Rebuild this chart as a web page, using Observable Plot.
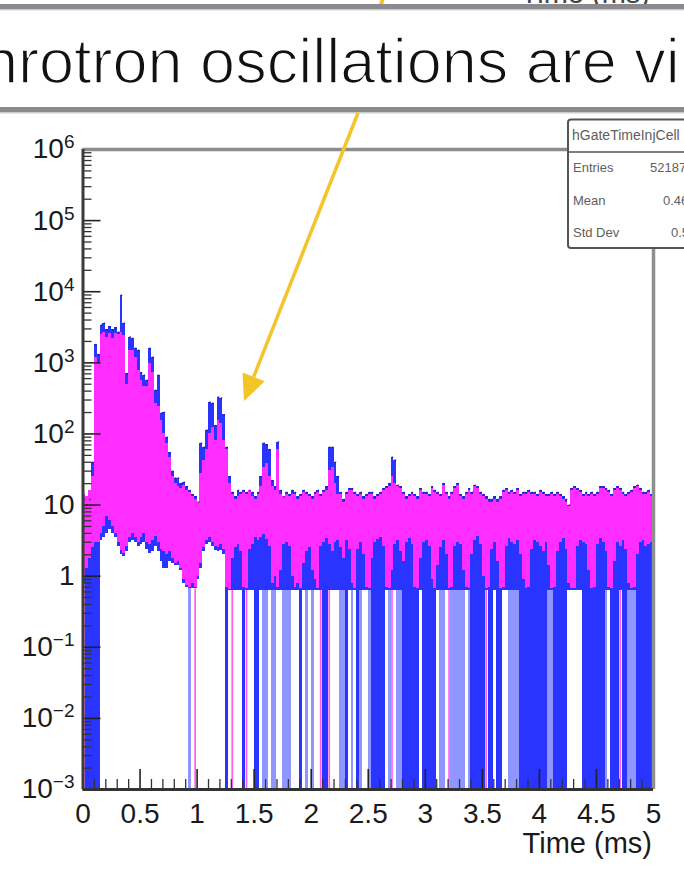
<!DOCTYPE html>
<html><head><meta charset="utf-8">
<script src="https://cdn.jsdelivr.net/npm/d3@7"></script>
<script src="https://cdn.jsdelivr.net/npm/@observablehq/plot@0.6"></script>
<style>
html,body{margin:0;padding:0;background:#fff;}
svg{display:block;}
</style></head><body>
<script>
// Histogram bin width (ms); 200 bins over 0-5 ms
const dt = 0.025;

// Upper edge of the blue histogram band (counts)
const blueHi = [
  12, 10, 12, 40, 1800, 1300, 3400, 3600, 2900, 3200,
  2900, 3100, 2700, 8900, 3600, 700, 2300, 2200, 1600, 1500,
  720, 670, 570, 1600, 1200, 410, 670, 195, 200, 90,
  54, 30, 24, 24, 20, 21, 18, 16, 14, 13,
  11, 74, 65, 113, 280, 270, 130, 330, 320, 185,
  65, 25, 15, 13, 16, 15, 16, 15, 16, 15,
  13, 15, 25, 74, 70, 60, 22, 18, 77, 16,
  13, 15, 14, 16, 15, 13, 14, 16, 15, 14,
  13, 15, 16, 14, 16, 18, 65, 65, 40, 25,
  15, 12, 15, 17, 17, 15, 14, 15, 13, 14,
  15, 15, 13, 14, 15, 17, 18, 20, 47, 43,
  19, 18, 15, 13, 14, 15, 14, 13, 17, 15,
  15, 14, 18, 16, 15, 14, 20, 15, 13, 15,
  18, 20, 14, 13, 15, 17, 15, 19, 18, 15,
  14, 13, 12, 12, 13, 12, 13, 16, 17, 15,
  16, 15, 17, 14, 15, 15, 16, 15, 15, 14,
  16, 15, 14, 14, 15, 14, 15, 14, 13, 12,
  10, 17, 18, 17, 16, 14, 15, 14, 15, 14,
  15, 18, 18, 17, 16, 14, 17, 18, 17, 15,
  14, 15, 16, 18, 19, 17, 15, 15, 16, 14
];
// Upper edge of the magenta histogram band
const magHi = [
  14, 13, 16, 25, 1200, 1000, 2500, 2700, 2300, 2600,
  2200, 2600, 2500, 2700, 2400, 500, 1500, 1500, 1200, 780,
  570, 460, 460, 980, 720, 270, 240, 155, 100, 74,
  47, 25, 20, 18, 17, 19, 16, 15, 13, 12,
  11, 28, 43, 60, 100, 125, 80, 155, 140, 82,
  60, 20, 14, 12, 13, 14, 15, 14, 16, 13,
  12, 14, 18, 34, 39, 25, 18, 16, 60, 14,
  13, 14, 13, 14, 14, 12, 13, 15, 14, 13,
  12, 14, 15, 13, 15, 16, 31, 34, 20, 14,
  14, 11, 14, 16, 16, 14, 13, 14, 12, 13,
  14, 14, 12, 13, 14, 16, 17, 18, 25, 20,
  18, 17, 14, 12, 13, 14, 13, 12, 16, 14,
  14, 13, 17, 15, 14, 13, 19, 14, 12, 14,
  17, 19, 13, 12, 14, 16, 14, 18, 17, 14,
  13, 12, 11, 11, 12, 11, 12, 15, 16, 14,
  15, 14, 16, 13, 14, 14, 15, 14, 14, 13,
  15, 14, 13, 13, 14, 13, 14, 13, 12, 11,
  9.5, 16, 17, 16, 15, 13, 14, 13, 14, 13,
  14, 17, 17, 16, 15, 13, 16, 17, 16, 14,
  13, 14, 15, 17, 18, 16, 14, 14, 15, 13
];
// Lower edge of the magenta band
const magLo = [
  1.0, 1.3, 1.8, 2.5, 3, 3, 4, 5, 7, 6,
  5, 4, 3, 2.3, 2.1, 2.6, 3.5, 4, 3.5, 3,
  3.5, 4, 3, 2.8, 3.2, 3.6, 3, 2.4, 2.2, 2,
  2.2, 1.8, 1.5, 1.6, 1.3, 0.9, 0.75, 0.7, 0.8, 0.7,
  1.0, 1.5, 2.5, 3.2, 3.5, 3.0, 2.6, 2.5, 2.8, 2.4,
  0.7, 0.65, 1.8, 2.5, 2.8, 2.2, 0.7, 0.66, 2.4, 2.8,
  3.5, 3.2, 3.5, 3.8, 3.3, 2.6, 0.8, 1.0, 0.7, 1.2,
  2.8, 3.0, 2.6, 1.0, 0.7, 0.8, 0.66, 1.5, 2.2, 2.5,
  1.2, 0.9, 0.66, 2.6, 3.0, 3.4, 2.8, 2.2, 3.0, 3.2,
  2.5, 1.8, 3.2, 2.4, 0.8, 0.66, 2.4, 3.0, 2.0, 0.7,
  0.66, 1.8, 3.0, 3.3, 3.5, 2.6, 0.7, 0.66, 1.2, 2.8,
  3.2, 2.2, 1.6, 3.0, 3.4, 2.8, 0.7, 0.66, 1.8, 3.0,
  3.2, 2.6, 0.9, 0.66, 1.4, 2.5, 3.2, 2.0, 0.66, 0.7,
  2.6, 3.0, 2.8, 1.2, 0.7, 0.66, 2.0, 3.2, 3.6, 2.8,
  1.0, 0.66, 0.7, 2.4, 3.0, 1.6, 0.66, 0.7, 2.6, 3.4,
  3.0, 2.8, 3.2, 2.0, 0.9, 0.66, 0.7, 2.4, 3.2, 3.0,
  2.6, 2.2, 3.0, 1.4, 0.66, 0.7, 2.2, 3.0, 3.4, 2.4,
  0.8, 0.66, 0.66, 2.6, 3.2, 3.0, 2.8, 1.2, 0.66, 0.7,
  2.8, 3.4, 3.0, 2.2, 0.7, 0.66, 1.6, 3.0, 2.6, 3.2,
  2.4, 0.8, 0.66, 0.7, 2.0, 3.0, 3.2, 2.6, 2.8, 3.0
];
// Lower edge of the blue band for the first 50 bins; afterwards the band reaches the floor value
const blueLoEarly = [
  0.8, 0.8, 0.9, 1.0, 1.2, 1.5, 3.2, 3.5, 4, 4.5,
  4, 3.5, 2.6, 2.0, 1.9, 2.2, 3, 3.2, 3, 2.6,
  2.8, 3.0, 2.4, 2.1, 2.2, 2.6, 2.2, 1.6, 1.3, 1.3,
  1.6, 1.5, 1.4, 1.4, 1.2, 0.8, 0.7, 0.66, 0.66, 0.66,
  0.9, 1.3, 2.2, 2.8, 3.0, 2.6, 2.3, 2.2, 2.3, 2.0
];
const blueFloor = 0.63;
// Error bars that reach down to the bottom of the log axis: 0 none, 1 light blue, 2 blue, 3 magenta
const stripeClass = [
  3,2,2,2,2,2,0,0,0,0,
  0,0,0,0,0,0,0,0,0,0,
  0,0,0,0,0,0,0,0,0,0,
  0,0,0,0,0,0,0,1,0,3,
  0,0,0,0,0,0,0,0,0,0,
  2,0,3,0,0,0,2,3,0,0,
  2,2,0,1,1,0,1,1,0,0,
  1,1,1,0,0,0,2,0,1,0,
  1,0,0,3,2,2,3,0,0,0,
  1,1,2,0,1,0,2,1,0,0,
  1,2,2,2,2,2,0,1,3,0,
  1,1,2,2,2,2,2,2,0,2,
  2,2,2,2,0,1,1,0,3,1,
  1,1,1,1,0,1,2,2,2,2,
  2,3,2,2,0,2,2,0,0,1,
  1,1,1,2,2,2,2,2,2,2,
  2,2,2,1,1,2,2,2,2,2,
  0,0,0,0,0,2,2,2,2,2,
  2,2,2,1,0,2,2,2,3,2,
  2,1,1,1,2,2,2,2,2,2
];

// Axis tick values and texts
const yMajor = [1e-3, 1e-2, 1e-1, 1, 10, 100, 1e3, 1e4, 1e5, 1e6];
const xMajor = [0, 0.5, 1, 1.5, 2, 2.5, 3, 3.5, 4, 4.5, 5];
const xLabel = "Time (ms)";
const statsTitle = "hGateTimeInjCell";
const statsRows = [["Entries", "52187"], ["Mean", "0.46"], ["Std Dev", "0.5"]];
const slideText = "hrotron oscillations are vi";

const yMinor = [];
for (let e = -3; e < 6; e++) for (let m = 2; m <= 9; m++) yMinor.push(m * Math.pow(10, e));
const xMinor = [];
for (let k = 1; k < 50; k++) if (k % 5) xMinor.push(k / 10);

const bins = blueHi.map((_, i) => ({
  x1: i * dt, x2: (i + 1) * dt, xc: (i + 0.5) * dt,
  bHi: blueHi[i], mHi: magHi[i], mLo: magLo[i],
  bLo: i < blueLoEarly.length ? blueLoEarly[i] : blueFloor,
  s: stripeClass[i]
}));

const W = 684, H = 871, mL = 82.5, mR = 31, mT = 149, mB = 82;
const frameW = W - mL - mR, frameH = H - mT - mB;
const BLUE = "#2a34ff", BLUE_LIGHT = "#9096ff", MAG = "#ff2dff", MAG_STRIPE = "#ff5cf2";

const fmtY = d => {
  const e = Math.round(Math.log10(d));
  if (e === 0) return "1";
  if (e === 1) return "10";
  return "10^" + (e < 0 ? "\u2212" + (-e) : e);
};

const chart = Plot.plot({
  width: W, height: H,
  marginLeft: mL, marginRight: mR, marginTop: mT, marginBottom: mB,
  style: {fontFamily: "'Liberation Sans', Arial, Helvetica, sans-serif", fontSize: "28px", color: "#1a1a1a", background: "#fff"},
  x: {domain: [0, 5], ticks: xMajor, tickFormat: d => String(d), tickSize: 0, tickPadding: 14, label: null},
  y: {type: "log", domain: [1e-3, 1e6], ticks: yMajor, tickFormat: fmtY, tickSize: 0, tickPadding: 8.5, label: null},
  marks: [
    Plot.rect(bins.filter(d => d.s === 1), {x1: "x1", x2: "x2", y1: () => 1e-3, y2: "bLo", fill: BLUE_LIGHT, shapeRendering: "crispEdges"}),
    Plot.rect(bins.filter(d => d.s === 2), {x1: "x1", x2: "x2", y1: () => 1e-3, y2: "bLo", fill: BLUE, shapeRendering: "crispEdges"}),
    Plot.rect(bins.filter(d => d.s === 3), {x1: "x1", x2: "x2", y1: () => 1e-3, y2: "bLo", fill: MAG_STRIPE, insetLeft: 0.6, insetRight: 0.6}),
    Plot.rect(bins, {x1: "x1", x2: "x2", y1: "bLo", y2: "bHi", fill: BLUE, shapeRendering: "crispEdges"}),
    Plot.rect(bins, {x1: "x1", x2: "x2", y1: "mLo", y2: "mHi", fill: MAG, shapeRendering: "crispEdges"}),
    Plot.dot(bins, {x: "xc", y: "bHi", r: 1, fill: "#1c1c66", fillOpacity: 0.6, stroke: null}),
    Plot.tickY(yMinor, {y: d => d, insetRight: frameW - 9, stroke: "#333", strokeWidth: 1.3}),
    Plot.tickY(yMajor, {y: d => d, insetRight: frameW - 18, stroke: "#222", strokeWidth: 1.6}),
    Plot.tickX(xMinor, {x: d => d, insetTop: frameH - 10, stroke: "#333", strokeWidth: 1.3}),
    Plot.tickX(xMajor, {x: d => d, insetTop: frameH - 20, stroke: "#222", strokeWidth: 1.6}),
    Plot.ruleY([1e6], {stroke: "#8c8c8c", strokeWidth: 3.5}),
    Plot.ruleX([5], {stroke: "#8e8e8e", strokeWidth: 3.5}),
    Plot.ruleX([0], {stroke: "#3a3a3a", strokeWidth: 3}),
    Plot.ruleY([1e-3], {stroke: "#333", strokeWidth: 3})
  ]
});
document.body.appendChild(chart);

const svg = d3.select(chart);
// superscript exponents on y tick labels
svg.selectAll("text").each(function () {
  const t = this.textContent;
  if (t.includes("^")) {
    const [b, e] = t.split("^");
    const s = d3.select(this);
    s.text(b);
    s.append("tspan").attr("dy", -10).attr("font-size", 19).text(e);
  }
});

const font = "'Liberation Sans', Arial, Helvetica, sans-serif";
// x axis title
svg.append("text").attr("x", 652).attr("y", 853).attr("text-anchor", "end")
  .attr("font-family", font).attr("font-size", 29).attr("fill", "#1a1a1a").text(xLabel);

// slide pieces above: cut text of a previous panel, bands, title
svg.append("text").attr("x", 650).attr("y", 3).attr("text-anchor", "end")
  .attr("font-family", font).attr("font-size", 29).attr("fill", "#444").text(xLabel);
svg.append("line").attr("x1", 383).attr("y1", -2).attr("x2", 380).attr("y2", 8)
  .attr("stroke", "#f3c52b").attr("stroke-width", 4);
svg.append("rect").attr("x", 0).attr("y", 10).attr("width", W).attr("height", 97).attr("fill", "#fff");
svg.append("rect").attr("x", 0).attr("y", 4).attr("width", W).attr("height", 5.5).attr("fill", "#8b8b8f");
svg.append("rect").attr("x", 0).attr("y", 9.5).attr("width", W).attr("height", 1).attr("fill", "#d0d0d0");
svg.append("rect").attr("x", 0).attr("y", 107).attr("width", W).attr("height", 5.5).attr("fill", "#8b8b8f");
svg.append("rect").attr("x", 0).attr("y", 112.5).attr("width", W).attr("height", 1).attr("fill", "#d0d0d0");
svg.append("text").attr("x", -17).attr("y", 83).attr("text-anchor", "start")
  .attr("font-family", font).attr("font-size", 63).attr("fill", "#111")
  .attr("stroke", "#fff").attr("stroke-width", 1.6).text(slideText);

// stats box
const box = svg.append("g").attr("font-family", font).attr("font-size", 13).attr("fill", "#606060").attr("text-anchor", "start");
box.append("rect").attr("x", 568).attr("y", 119.5).attr("width", 140).attr("height", 128.5)
  .attr("rx", 3).attr("fill", "#fff").attr("stroke", "#555").attr("stroke-width", 2);
box.append("line").attr("x1", 568).attr("x2", W).attr("y1", 152).attr("y2", 152)
  .attr("stroke", "#555").attr("stroke-width", 1.5);
box.append("text").attr("x", 572).attr("y", 140).attr("font-size", 14).text(statsTitle);
const rowY = [172, 205, 237], valX = [650, 663, 671];
statsRows.forEach(([k, v], j) => {
  box.append("text").attr("x", 573).attr("y", rowY[j]).text(k);
  box.append("text").attr("x", valX[j]).attr("y", rowY[j]).text(v);
});

// yellow arrow
const tip = [244, 401], dir = [-0.371, 0.928], nrm = [0.928, 0.371], L = 26, hw = 12;
const base = [tip[0] - L * dir[0], tip[1] - L * dir[1]];
svg.append("line").attr("x1", 358).attr("y1", 113).attr("x2", base[0]).attr("y2", base[1])
  .attr("stroke", "#f3c52b").attr("stroke-width", 3.5);
svg.append("path").attr("d", `M${tip[0]},${tip[1]}L${base[0] + hw * nrm[0]},${base[1] + hw * nrm[1]}L${base[0] - hw * nrm[0]},${base[1] - hw * nrm[1]}Z`)
  .attr("fill", "#f3c52b");
</script>
</body></html>
